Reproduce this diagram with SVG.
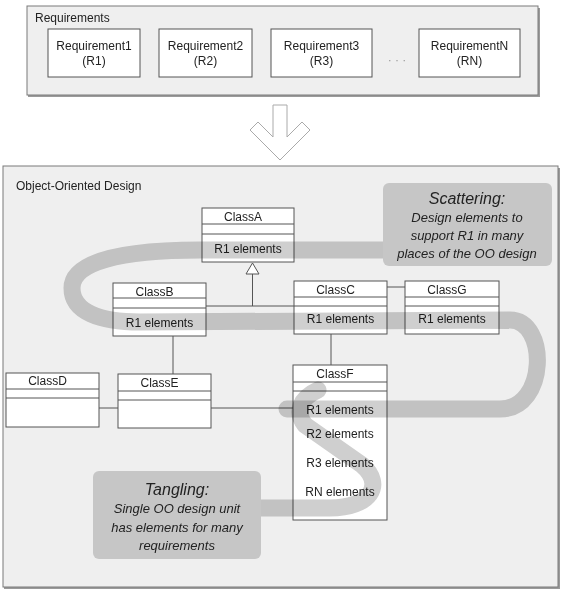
<svg xmlns="http://www.w3.org/2000/svg" width="564" height="594" viewBox="0 0 564 594">
<style>
  text{font-family:"Liberation Sans",Arial,sans-serif;fill:#222;font-size:12px}
  .c{text-anchor:middle}
  .panel{fill:#efefef;stroke:#7a7a7a;stroke-width:1}
  .shadow{fill:none;stroke:#9a9a9a;stroke-width:2}
  .box{fill:#fff;stroke:#555;stroke-width:1}
  .div{stroke:#555;stroke-width:1}
  .conn{stroke:#555;stroke-width:1;fill:none}
  .band{fill:none;stroke:#cfcfcf;stroke-width:17;stroke-linecap:round;stroke-linejoin:round;mix-blend-mode:multiply}
  .call{fill:#c6c6c6}
  .it{font-style:italic;font-size:13px}
  .ttl{font-style:italic;font-size:16px}
  .dots{fill:#999}
</style>

<g id="requirements">
  <path class="shadow" d="M28 96 H539 V8"/>
  <rect class="panel" x="27" y="6" width="511" height="89"/>
  <text x="35" y="22">Requirements</text>
</g>
<g id="req1"><rect class="box" x="48" y="29" width="92" height="48"/><text class="c" x="94" y="50">Requirement1</text><text class="c" x="94" y="65">(R1)</text></g>
<g id="req2"><rect class="box" x="159" y="29" width="93" height="48"/><text class="c" x="205.5" y="50">Requirement2</text><text class="c" x="205.5" y="65">(R2)</text></g>
<g id="req3"><rect class="box" x="271" y="29" width="101" height="48"/><text class="c" x="321.5" y="50">Requirement3</text><text class="c" x="321.5" y="65">(R3)</text></g>
<g id="dots"><text class="c dots" x="397" y="64">· · ·</text></g>
<g id="reqN"><rect class="box" x="419" y="29" width="101" height="48"/><text class="c" x="469.5" y="50">RequirementN</text><text class="c" x="469.5" y="65">(RN)</text></g>

<g id="transform-arrow">
  <polygon points="273,105 287,105 287,137 302,122 310,130 280,160 250,130 258,122 273,137" fill="#fff" stroke="#aaa" stroke-width="1"/>
</g>

<g id="oo-design">
  <path class="shadow" d="M4 588 H559 V168"/>
  <rect class="panel" x="3" y="166" width="555" height="421"/>
  <text x="16" y="190">Object-Oriented Design</text>
</g>

<g id="connectors">
  <path class="conn" d="M252.5 274 V306 M206 306 H294"/>
  <polygon points="252.5,263 259,274 246,274" fill="#fff" stroke="#555" stroke-width="1"/>
  <path class="conn" d="M387 287 H405"/>
  <path class="conn" d="M331 334 V365"/>
  <path class="conn" d="M173 336 V374"/>
  <path class="conn" d="M99 408 H118"/>
  <path class="conn" d="M211 408 H293"/>
</g>

<g id="ClassA">
  <rect class="box" x="202" y="208" width="92" height="54"/>
  <path class="div" d="M202 224 H294 M202 234 H294"/>
  <text class="c" x="243" y="221">ClassA</text>
  <text class="c" x="248" y="253">R1 elements</text>
</g>
<g id="ClassB">
  <rect class="box" x="113" y="283" width="93" height="53"/>
  <path class="div" d="M113 298 H206 M113 308 H206"/>
  <text class="c" x="154.5" y="296">ClassB</text>
  <text class="c" x="159.5" y="327">R1 elements</text>
</g>
<g id="ClassC">
  <rect class="box" x="294" y="281" width="93" height="53"/>
  <path class="div" d="M294 297 H387 M294 306 H387"/>
  <text class="c" x="335.5" y="294">ClassC</text>
  <text class="c" x="340.5" y="323">R1 elements</text>
</g>
<g id="ClassG">
  <rect class="box" x="405" y="281" width="94" height="53"/>
  <path class="div" d="M405 297 H499 M405 306 H499"/>
  <text class="c" x="447" y="294">ClassG</text>
  <text class="c" x="452" y="323">R1 elements</text>
</g>
<g id="ClassD">
  <rect class="box" x="6" y="373" width="93" height="54"/>
  <path class="div" d="M6 389 H99 M6 398 H99"/>
  <text class="c" x="47.5" y="385">ClassD</text>
</g>
<g id="ClassE">
  <rect class="box" x="118" y="374" width="93" height="54"/>
  <path class="div" d="M118 391 H211 M118 400 H211"/>
  <text class="c" x="159.5" y="387">ClassE</text>
</g>
<g id="ClassF">
  <rect class="box" x="293" y="365" width="94" height="155"/>
  <path class="div" d="M293 382 H387 M293 391 H387"/>
  <text class="c" x="335" y="378">ClassF</text>
  <text class="c" x="340" y="414">R1 elements</text>
  <text class="c" x="340" y="438">R2 elements</text>
  <text class="c" x="340" y="467">R3 elements</text>
  <text class="c" x="340" y="496">RN elements</text>
</g>

<g id="bands">
  <path class="band" d="M395 250 L200 250 C120 250 72 262 72 288 C72 312 100 322 140 322 L510 320 C548 320 548 409 500 409 L287 409"/>
  <path class="band" d="M318 390 C300 398 295 412 305 425 L362 465 C385 485 370 508 330 508 L250 508"/>
</g>

<g id="scattering">
  <rect class="call" x="383" y="183" width="169" height="83" rx="6"/>
  <text class="c ttl" x="467" y="204">Scattering:</text>
  <text class="c it" x="467" y="222">Design elements to</text>
  <text class="c it" x="467" y="240">support R1 in many</text>
  <text class="c it" x="467" y="258">places of the OO design</text>
</g>
<g id="tangling">
  <rect class="call" x="93" y="471" width="168" height="88" rx="6"/>
  <text class="c ttl" x="177" y="495">Tangling:</text>
  <text class="c it" x="177" y="513">Single OO design unit</text>
  <text class="c it" x="177" y="532">has elements for many</text>
  <text class="c it" x="177" y="550">requirements</text>
</g>
</svg>
